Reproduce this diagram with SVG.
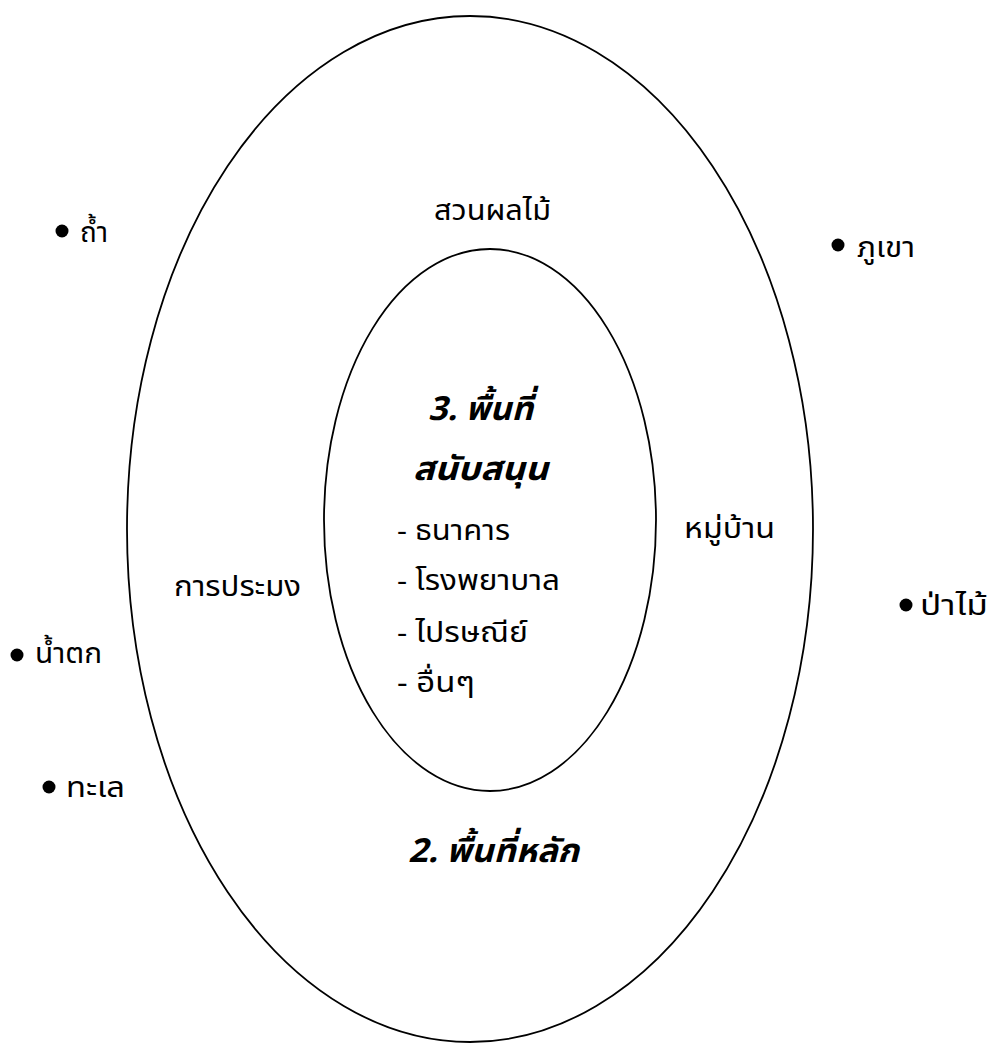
<svg xmlns="http://www.w3.org/2000/svg" width="990" height="1043" viewBox="0 0 990 1043">
<style>
.ring{fill:none;stroke:#000;stroke-width:1.8}
.lbl{font-family:"Noto Sans Thai","Noto Sans","DejaVu Sans",sans-serif;font-size:28px;fill:#000}
.ttl{font-family:"Noto Sans Thai","Noto Sans","DejaVu Sans",sans-serif;font-size:33px;font-weight:bold;font-style:italic;fill:#000}
.dot{fill:#000}
</style>
<rect width="990" height="1043" fill="#fff"/>
<g id="outer-area">
<ellipse class="ring" cx="470" cy="529" rx="343" ry="513"/>
<text class="lbl" x="434" y="220" textLength="117" lengthAdjust="spacingAndGlyphs">สวนผลไม้</text>
<text class="lbl" x="174" y="596" textLength="127" lengthAdjust="spacingAndGlyphs">การประมง</text>
<text class="lbl" x="684" y="538" textLength="91" lengthAdjust="spacingAndGlyphs">หมู่บ้าน</text>
<text class="ttl" x="408" y="862" textLength="171" lengthAdjust="spacingAndGlyphs">2. พื้นที่หลัก</text>
</g>
<g id="inner-area">
<ellipse class="ring" cx="490" cy="520" rx="166" ry="271"/>
<text class="ttl" x="428" y="420" textLength="105" lengthAdjust="spacingAndGlyphs">3. พื้นที่</text>
<text class="ttl" x="413" y="480" textLength="135" lengthAdjust="spacingAndGlyphs">สนับสนุน</text>
<text class="lbl" x="397" y="540" textLength="113" lengthAdjust="spacingAndGlyphs">- ธนาคาร</text>
<text class="lbl" x="397" y="590" textLength="163" lengthAdjust="spacingAndGlyphs">- โรงพยาบาล</text>
<text class="lbl" x="397" y="642" textLength="131" lengthAdjust="spacingAndGlyphs">- ไปรษณีย์</text>
<text class="lbl" x="397" y="692" textLength="78" lengthAdjust="spacingAndGlyphs">- อื่นๆ</text>
</g>
<g id="cave"><circle class="dot" cx="62" cy="231" r="6.5"/><text class="lbl" x="80" y="242" textLength="28" lengthAdjust="spacingAndGlyphs">ถ้ำ</text></g>
<g id="mountain"><circle class="dot" cx="838" cy="245" r="6.5"/><text class="lbl" x="857" y="257" textLength="58" lengthAdjust="spacingAndGlyphs">ภูเขา</text></g>
<g id="waterfall"><circle class="dot" cx="17" cy="655" r="6.5"/><text class="lbl" x="35" y="663" textLength="67" lengthAdjust="spacingAndGlyphs">น้ำตก</text></g>
<g id="forest"><circle class="dot" cx="906" cy="605" r="6.5"/><text class="lbl" x="920" y="615" textLength="68" lengthAdjust="spacingAndGlyphs">ป่าไม้</text></g>
<g id="sea"><circle class="dot" cx="49" cy="787" r="6.5"/><text class="lbl" x="66" y="797" textLength="59" lengthAdjust="spacingAndGlyphs">ทะเล</text></g>
<g id="connectors"></g>
</svg>
